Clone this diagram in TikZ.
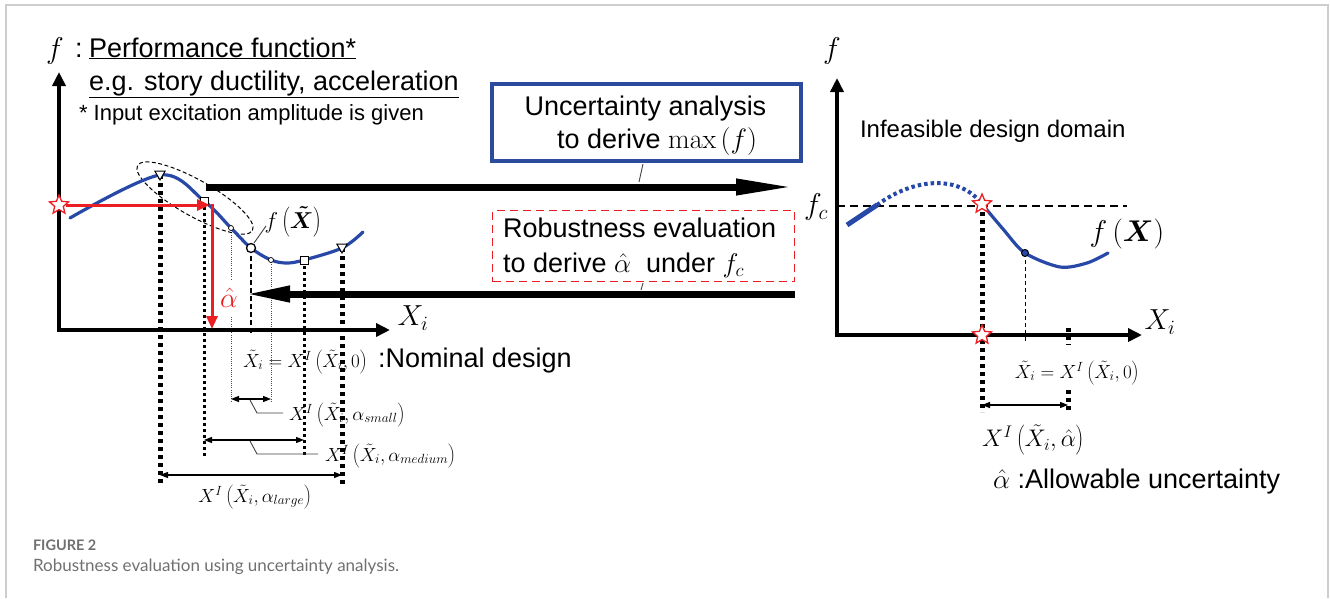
\RequirePackage{fix-cm}
\documentclass[tikz,border=0pt]{standalone}
\usepackage[no-math]{fontspec}
\usepackage{bm}
\setmainfont{Liberation Sans}
\newfontfamily\capfont{Lato}
\usetikzlibrary{arrows.meta,shapes.geometric}
\definecolor{cblue}{RGB}{40,72,168}
\definecolor{bblue}{RGB}{44,74,158}
\definecolor{cred}{RGB}{235,30,35}
\definecolor{framegray}{RGB}{205,205,205}
\definecolor{capgray}{RGB}{112,112,112}
\newcommand{\fsz}[1]{\fontsize{#1}{#1}\selectfont}
\tikzset{
  axisline/.style={line width=4pt, {Triangle[length=14pt,width=13pt]}-{Triangle[length=14pt,width=13pt]}, line join=miter},
  curveline/.style={cblue, line width=3.2pt, line cap=round},
  bigdot/.style={line width=5pt, dash pattern=on 4pt off 4pt},
  middot/.style={line width=3pt, dash pattern=on 3pt off 3pt},
  finedot/.style={line width=0.9pt, dash pattern=on 1pt off 1.2pt, black!70},
  thindash/.style={line width=1.2pt, dash pattern=on 5pt off 3pt},
  dimarrow/.style={line width=1.2pt, {Triangle[length=8pt,width=6pt]}-{Triangle[length=8pt,width=6pt]}},
  leader/.style={line width=0.9pt, black!75},
  bigarrow/.style={line width=7pt},
  redarrow/.style={cred, line width=3pt, -{Triangle[length=13pt,width=11pt]}},
  redstar/.style={star, star points=5, star point ratio=2.2, draw=cred, fill=white, line width=1.3pt, minimum size=20pt, inner sep=0pt},
  trimark/.style={regular polygon, regular polygon sides=3, shape border rotate=180, draw, fill=white, line width=1pt, minimum size=12pt, inner sep=0pt},
  sqmark/.style={rectangle, draw, fill=white, line width=1pt, minimum size=8pt, inner sep=0pt},
  smallmark/.style={circle, draw, fill=white, line width=0.7pt, minimum size=5pt, inner sep=0pt},
  nommark/.style={circle, draw, fill=white, line width=1.3pt, minimum size=9pt, inner sep=0pt},
  lbl/.style={inner sep=0pt, outer sep=0pt},
}
\begin{document}
\begin{tikzpicture}[x=1pt, y=-1pt]
\useasboundingbox (0,0) rectangle (1330,598);
% frame
\coordinate (fr1) at (6,598); \coordinate (fr2) at (6,5); \coordinate (fr3) at (1328,5); \coordinate (fr4) at (1328,598);
\draw[framegray, line width=1.5pt] (fr1) -- (fr2) -- (fr3) -- (fr4);

% ================= LEFT GRAPH =================
\coordinate (LO) at (59,330); \coordinate (LY) at (59,72); \coordinate (LX) at (390,330);
\coordinate (pA) at (70,218);
\coordinate (pT1) at (160,175);
\coordinate (pS1) at (204,201);
\coordinate (pD1) at (231,228);
\coordinate (pN) at (251,248);
\coordinate (pD2) at (271,260);
\coordinate (pM) at (287,263);
\coordinate (pS2) at (304,260);
\coordinate (pT2) at (342,248);
\coordinate (pE) at (363,232);
% guide lines
\coordinate (vT1) at (160,485);
\coordinate (vT2) at (342,487);
\coordinate (vS1) at (204,457);
\coordinate (vS2) at (304,457);
\coordinate (vD1a) at (231,279); \coordinate (vD1b) at (231,317); \coordinate (vD1c) at (231,402);
\coordinate (vD2) at (271,402);
\coordinate (vN) at (251,334);
\draw[bigdot] (pT1) -- (vT1);
\draw[bigdot] (pT2) -- (vT2);
\draw[middot] (pS1) -- (vS1);
\draw[middot] (pS2) -- (vS2);
\draw[finedot] (pD1) -- (vD1a);
\draw[finedot] (vD1b) -- (vD1c);
\draw[finedot] (pD2) -- (vD2);
\draw[thindash] (pN) -- (vN);

% axes
\draw[axisline] (LY) -- (LO) -- (LX);
\node[lbl, font=\fsz{29}] (LXl) at (413,318) {$X_i$};

% dashed ellipse
\coordinate (pC) at (195,198);
\draw[line width=1pt, dash pattern=on 4pt off 2.5pt, rotate around={-29.5:(pC)}] (pC) ellipse [x radius=66pt, y radius=18pt];

% curve
\draw[curveline] plot[smooth, tension=0.55] coordinates {(pA) (pT1) (pS1) (pD1) (pN) (pD2) (pM) (pS2) (pT2) (pE)};

% markers
\node[trimark] (mT1) at (160,174) {};
\node[trimark] (mT2) at (342,247) {};
\node[sqmark] (mS1) at (pS1) {};
\node[sqmark] (mS2) at (pS2) {};
\node[smallmark] (mD1) at (pD1) {};
\node[smallmark] (mD2) at (pD2) {};
\node[nommark] (mN) at (pN) {};

% f(X~) label
\node[lbl, font=\fsz{23}] (fXt) at (293,222) {$f\left(\bm{\tilde{X}}\right)$};
\coordinate (fl1) at (254,243); \coordinate (fl2) at (266,226);
\draw[leader] (fl1) -- (fl2);

% big black arrows
\coordinate (ua1) at (206,187); \coordinate (ua2) at (794,187);
\draw[bigarrow, -{Triangle[length=58pt,width=15pt]}] (ua1) -- (ua2);
\coordinate (la1) at (795,294); \coordinate (la2) at (245,294);
\draw[bigarrow, -{Triangle[length=45pt,width=15pt]}] (la1) -- (la2);

% red construction
\node[redstar] (starL) at (59,205) {};
\coordinate (rTurn) at (210,205); \coordinate (rTop) at (212,203.5); \coordinate (rBot) at (212,329);
\draw[redarrow] (starL) -- (rTurn);
\draw[redarrow] (rTop) -- (rBot);
\node[lbl, text=cred, fill=white, inner sep=1pt, font=\fsz{28}] (ahL) at (229,298) {$\hat{\alpha}$};

% titles
\node[lbl, anchor=base west, font=\fsz{30}] (fTop) at (46,58) {$f$};
\node[lbl, anchor=base west, font=\fsz{27}] (colon) at (75,57) {:};
\node[lbl, anchor=base west, font=\fsz{27}] (perf) at (89,57) {\underline{Performance function*}};
\node[lbl, anchor=base west, font=\fsz{27}] (eg) at (89,90) {\underline{e.g. story ductility, acceleration}};
\node[lbl, anchor=base west, font=\fsz{22}] (inp) at (79,120) {* Input excitation amplitude is given};

% nominal design
\node[lbl, anchor=base west, font=\fsz{19}] (nomM) at (243,367) {$\tilde{X}_i = X^I\left(\tilde{X}_i,0\right)$};
\node[lbl, anchor=base west, font=\fsz{27}] (nomT) at (378,367) {:Nominal design};

% dimension arrows left
\coordinate (dS1) at (231,399); \coordinate (dS2) at (271,399);
\draw[dimarrow] (dS1) -- (dS2);
\coordinate (lS1) at (250,400); \coordinate (lS2) at (257,413); \coordinate (lS3) at (283,413);
\draw[leader] (lS1) -- (lS2) -- (lS3);
\node[lbl, anchor=west, font=\fsz{19}] (labS) at (289,415) {$X^{I}\left(\tilde{X}_i,\alpha_{small}\right)$};

\coordinate (dM1) at (204,440); \coordinate (dM2) at (304,440);
\draw[dimarrow] (dM1) -- (dM2);
\coordinate (lM1) at (250,441); \coordinate (lM2) at (257,454); \coordinate (lM3) at (318,454);
\draw[leader] (lM1) -- (lM2) -- (lM3);
\node[lbl, anchor=west, font=\fsz{19}] (labM) at (325,456) {$X^{I}\left(\tilde{X}_i,\alpha_{medium}\right)$};

\coordinate (dL1) at (160,475); \coordinate (dL2) at (342,475);
\draw[dimarrow] (dL1) -- (dL2);
\node[lbl, font=\fsz{19}] (labL) at (255,497) {$X^{I}\left(\tilde{X}_i,\alpha_{large}\right)$};

% ================= BOXES =================
\node[draw=bblue, line width=4pt, minimum width=309pt, minimum height=77pt, inner sep=0pt] (ubox) at (646.5,122.5) {};
\node[lbl, anchor=base, font=\fsz{27}] (ut1) at (645.5,115) {Uncertainty analysis};
\node[lbl, anchor=base west, font=\fsz{27}] (ut2) at (557,148) {to derive {\fsz{28}$\max\left(f\right)$}};
\coordinate (ul1) at (643,164); \coordinate (ul2) at (639,182);
\draw[leader] (ul1) -- (ul2);

\node[draw=cred, dash pattern=on 8pt off 5pt, line width=1.5pt, minimum width=302pt, minimum height=71pt, inner sep=0pt] (rbox) at (643.5,246) {};
\node[lbl, anchor=base west, font=\fsz{27}] (rt1) at (503,237) {Robustness evaluation};
\node[lbl, anchor=base west, font=\fsz{27}] (rt2) at (503,272) {to derive $\hat{\alpha}$\ \ under $f_c$};
\coordinate (rl1) at (643,283); \coordinate (rl2) at (641,290);
\draw[leader] (rl1) -- (rl2);

% ================= RIGHT GRAPH =================
\coordinate (RO) at (837,335); \coordinate (RY) at (837,78); \coordinate (RX) at (1142,335);
\coordinate (fc1) at (837,206); \coordinate (fc2) at (1127,206);
\draw[line width=2pt, dash pattern=on 8pt off 5pt] (fc1) -- (fc2);
% guides
\coordinate (sR) at (982,204); \coordinate (sRb) at (982,412);
\draw[bigdot] (sR) -- (sRb);
\coordinate (dotR) at (1025,253); \coordinate (dotRb) at (1025,343);
\draw[line width=1pt, dash pattern=on 4pt off 3pt] (dotR) -- (dotRb);
\coordinate (tk1) at (1068,328); \coordinate (tk2) at (1068,345);
\draw[bigdot] (tk1) -- (tk2);
\coordinate (tk3) at (1068,390); \coordinate (tk4) at (1068,412);
\draw[bigdot] (tk3) -- (tk4);
\coordinate (rd1) at (982,405); \coordinate (rd2) at (1068,405);
\draw[dimarrow] (rd1) -- (rd2);

\draw[axisline] (RY) -- (RO) -- (RX);
\node[lbl, anchor=base west, font=\fsz{30}] (fR) at (823,58) {$f$};
\node[lbl, font=\fsz{29}] (RXl) at (1160,322) {$X_i$};
\node[lbl, font=\fsz{30}] (fcl) at (816,207) {$f_c$};
\node[lbl, anchor=base west, font=\fsz{24}] (infeas) at (860,137) {Infeasible design domain};

% curve right
\coordinate (q1) at (847,225); \coordinate (q2) at (877,205);
\coordinate (q3) at (1060,267); \coordinate (q4) at (1087,263); \coordinate (q5) at (1108,253);
\coordinate (q6) at (1003,229);
\draw[cblue, line width=5pt] (q1) -- (q2);
\draw[cblue, line width=4pt, dash pattern=on 3.5pt off 3pt] (q2) .. controls (915,177) and (960,175) .. (sR);
\draw[curveline] plot[smooth, tension=0.5] coordinates {(sR) (q6) (dotR) (q3) (q4) (q5)};
\node[circle, draw, fill=cblue, line width=1pt, minimum size=7pt, inner sep=0pt] (mDotR) at (dotR) {};
\node[redstar] (starR1) at (sR) {};
\node[redstar] (starR2) at (982,335) {};

\node[lbl, font=\fsz{30}] (fX) at (1127,234) {$f\left(\bm{X}\right)$};
\node[lbl, font=\fsz{19}] (nomR) at (1077,373) {$\tilde{X}_i = X^I\left(\tilde{X}_i,0\right)$};
\node[lbl, font=\fsz{24}] (ahR) at (1033,440) {$X^{I}\left(\tilde{X}_i,\hat{\alpha}\right)$};
\node[lbl, anchor=base west, font=\fsz{27}] (allow) at (993,488) {$\hat{\alpha}$\ :Allowable uncertainty};

% caption
\node[lbl, anchor=base west, font=\capfont\bfseries\fsz{14.5}, text=capgray] (capA) at (33,550) {FIGURE 2};
\node[lbl, anchor=base west, font=\capfont\fsz{17}, text=capgray] (capB) at (33,571) {Robustness evaluation using uncertainty analysis.};
\end{tikzpicture}
\end{document}
